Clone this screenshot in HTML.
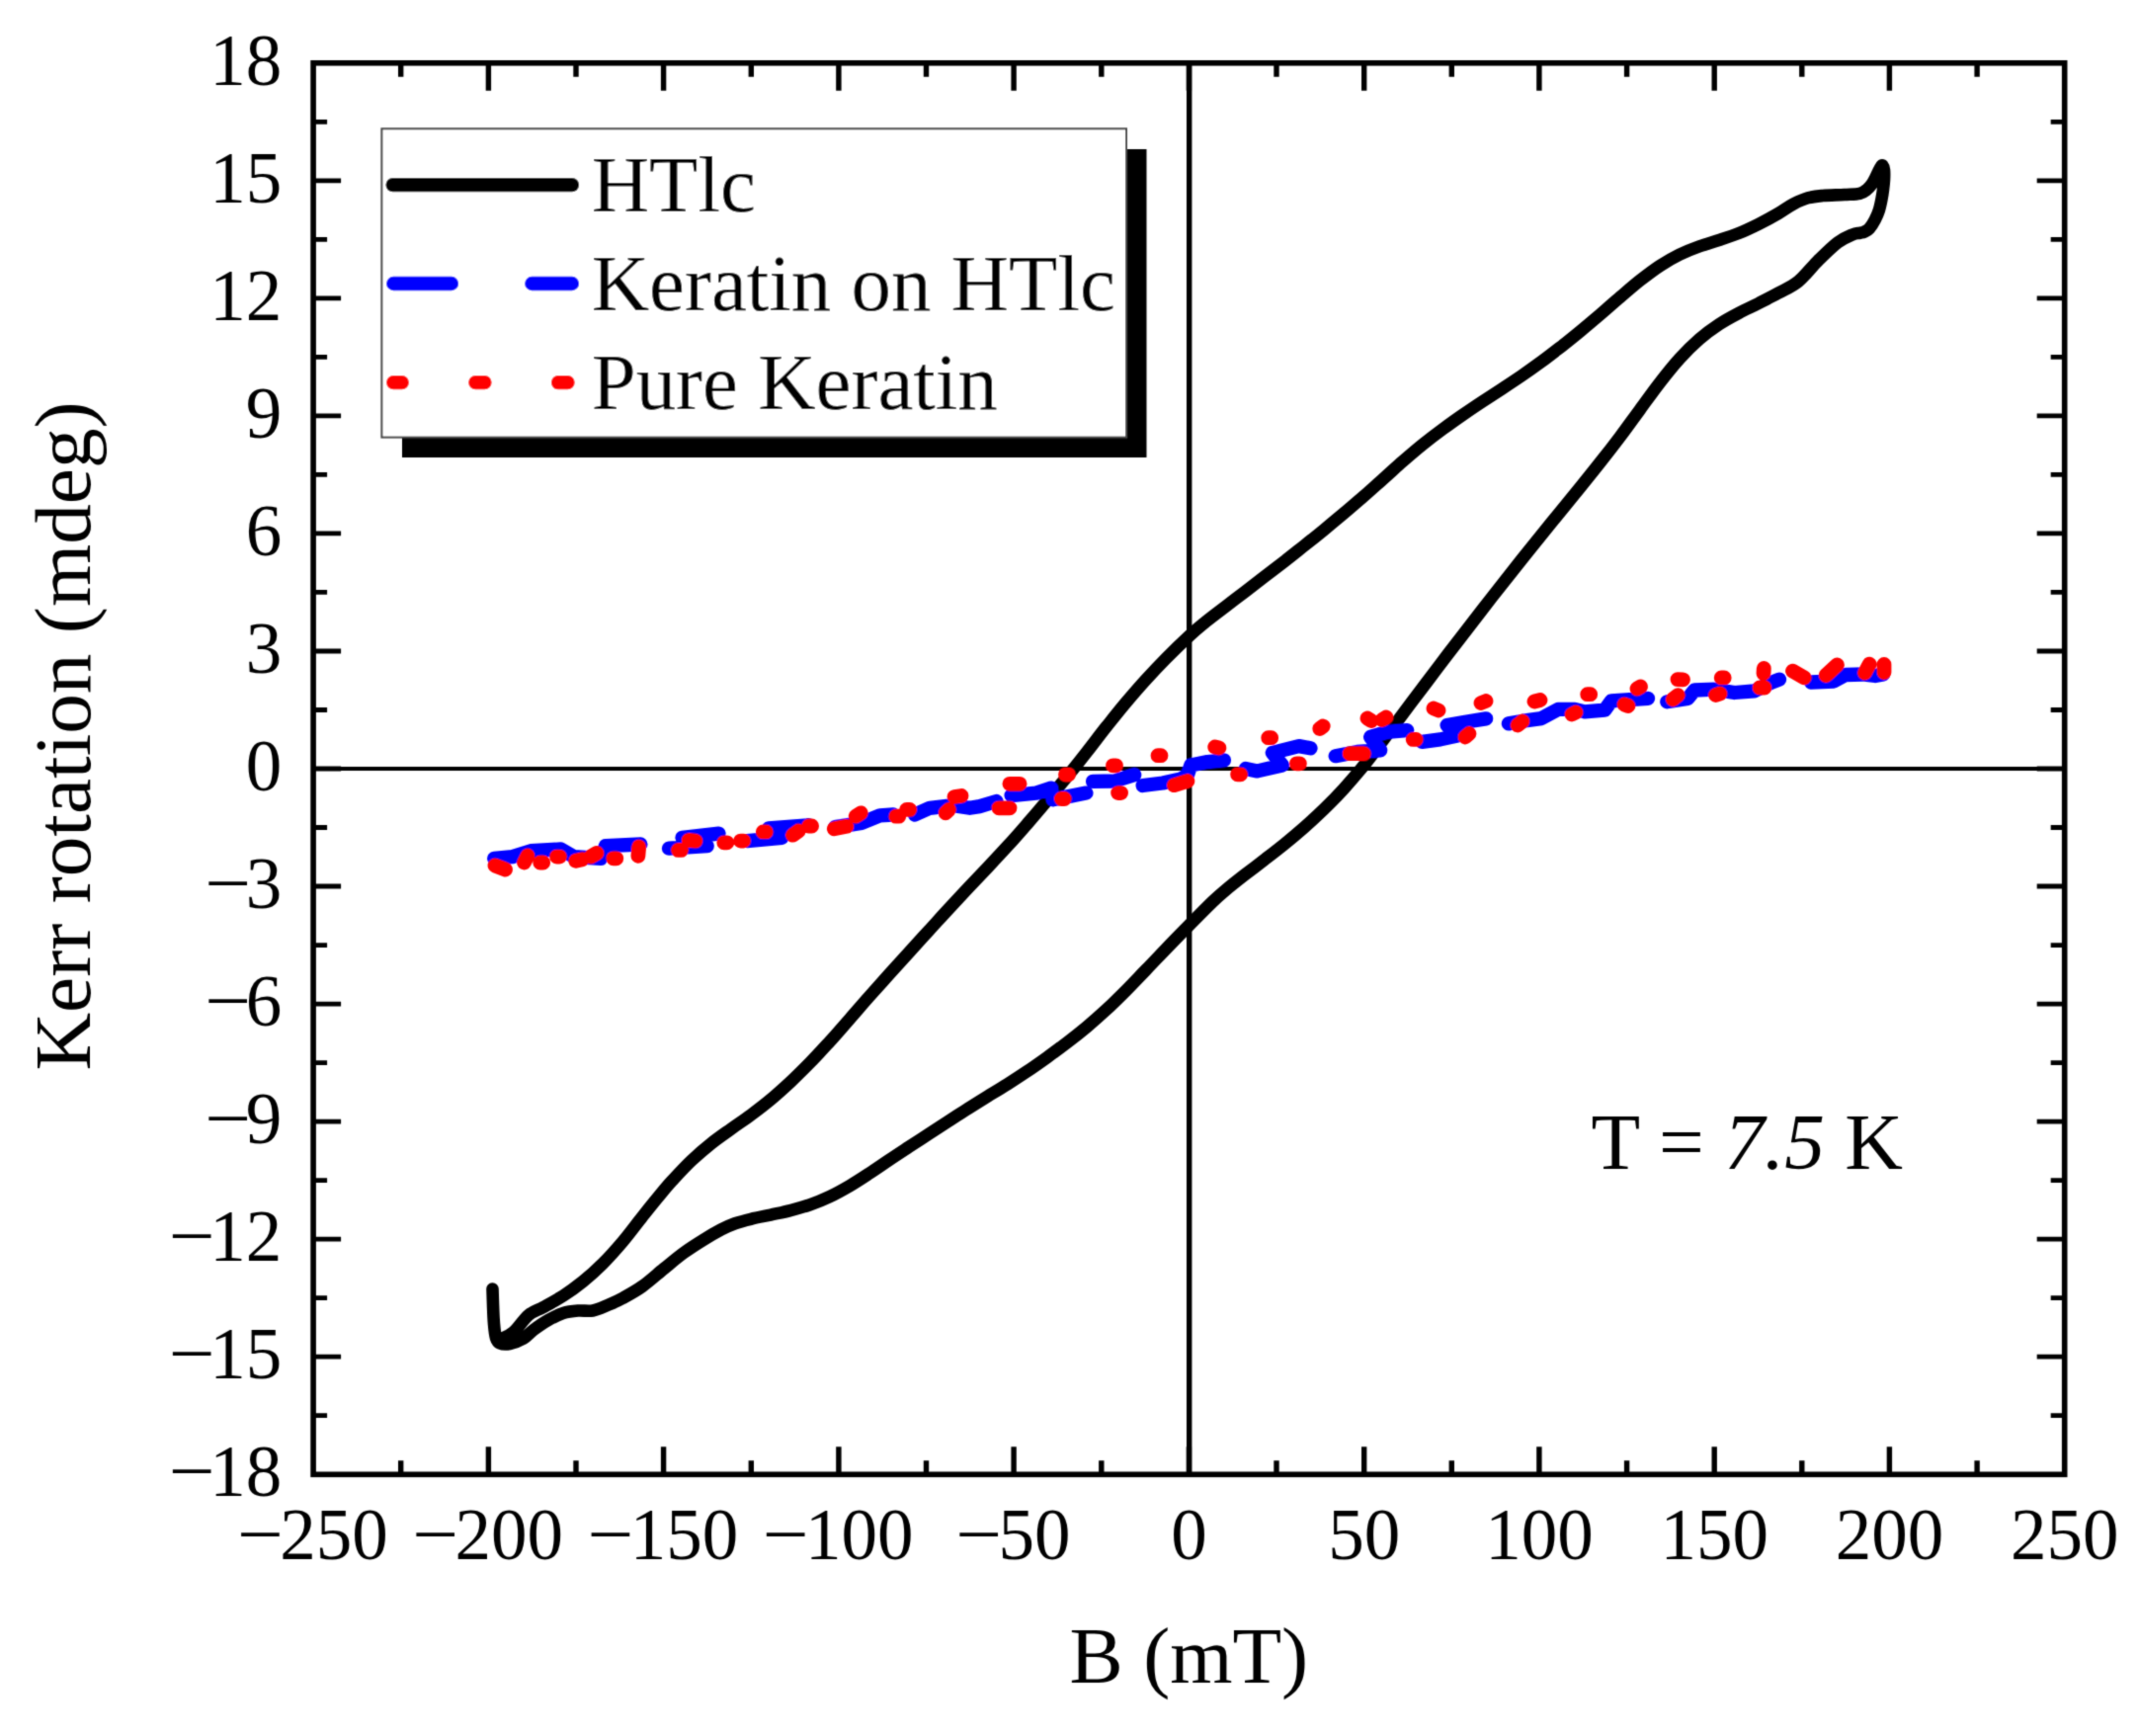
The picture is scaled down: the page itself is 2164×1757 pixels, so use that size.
<!DOCTYPE html>
<html lang="en"><head><meta charset="utf-8"><title>Kerr rotation vs B</title>
<style>html,body{margin:0;padding:0;background:#fff;}svg{display:block;}text{font-family:"Liberation Serif", "Times New Roman", serif;fill:#000;}</style>
</head><body>
<svg width="2164" height="1757" viewBox="0 0 2164 1757">
<rect x="0" y="0" width="2164" height="1757" fill="#fff"/>
<defs><filter id="soft" x="0" y="0" width="2164" height="1757" filterUnits="userSpaceOnUse"><feConvolveMatrix order="3" kernelMatrix="1 4 1 4 20 4 1 4 1" divisor="40" edgeMode="duplicate"/></filter></defs>
<g filter="url(#soft)">
<line x1="1203.7" y1="63.8" x2="1203.7" y2="1492.2" stroke="#000" stroke-width="5.4"/>
<line x1="317.1" y1="778.0" x2="2089.7" y2="778.0" stroke="#000" stroke-width="4.2"/>
<path d="M405.7 63.8v14.0M405.7 1492.2v-14.0M494.4 63.8v28.0M494.4 1492.2v-28.0M583.0 63.8v14.0M583.0 1492.2v-14.0M671.6 63.8v28.0M671.6 1492.2v-28.0M760.3 63.8v14.0M760.3 1492.2v-14.0M848.9 63.8v28.0M848.9 1492.2v-28.0M937.5 63.8v14.0M937.5 1492.2v-14.0M1026.1 63.8v28.0M1026.1 1492.2v-28.0M1114.8 63.8v14.0M1114.8 1492.2v-14.0M1203.4 63.8v28.0M1203.4 1492.2v-28.0M1292.0 63.8v14.0M1292.0 1492.2v-14.0M1380.7 63.8v28.0M1380.7 1492.2v-28.0M1469.3 63.8v14.0M1469.3 1492.2v-14.0M1557.9 63.8v28.0M1557.9 1492.2v-28.0M1646.6 63.8v14.0M1646.6 1492.2v-14.0M1735.2 63.8v28.0M1735.2 1492.2v-28.0M1823.8 63.8v14.0M1823.8 1492.2v-14.0M1912.4 63.8v28.0M1912.4 1492.2v-28.0M2001.1 63.8v14.0M2001.1 1492.2v-14.0" stroke="#000" stroke-width="5.4" fill="none"/>
<path d="M317.1 1432.7h14.0M2089.7 1432.7h-14.0M317.1 1373.2h28.0M2089.7 1373.2h-28.0M317.1 1313.7h14.0M2089.7 1313.7h-14.0M317.1 1254.2h28.0M2089.7 1254.2h-28.0M317.1 1194.6h14.0M2089.7 1194.6h-14.0M317.1 1135.1h28.0M2089.7 1135.1h-28.0M317.1 1075.6h14.0M2089.7 1075.6h-14.0M317.1 1016.1h28.0M2089.7 1016.1h-28.0M317.1 956.6h14.0M2089.7 956.6h-14.0M317.1 897.0h28.0M2089.7 897.0h-28.0M317.1 837.5h14.0M2089.7 837.5h-14.0M317.1 778.0h28.0M2089.7 778.0h-28.0M317.1 718.5h14.0M2089.7 718.5h-14.0M317.1 659.0h28.0M2089.7 659.0h-28.0M317.1 599.4h14.0M2089.7 599.4h-14.0M317.1 539.9h28.0M2089.7 539.9h-28.0M317.1 480.4h14.0M2089.7 480.4h-14.0M317.1 420.9h28.0M2089.7 420.9h-28.0M317.1 361.4h14.0M2089.7 361.4h-14.0M317.1 301.8h28.0M2089.7 301.8h-28.0M317.1 242.3h14.0M2089.7 242.3h-14.0M317.1 182.8h28.0M2089.7 182.8h-28.0M317.1 123.3h14.0M2089.7 123.3h-14.0" stroke="#000" stroke-width="4.8" fill="none"/>
<g fill="none" stroke-linecap="round" stroke-linejoin="round">
<path d="M498.5 1304.5 C498.6 1307.1 498.8 1314.1 499.0 1320.0 C499.2 1325.9 499.5 1334.3 500.0 1340.0 C500.5 1345.7 501.0 1350.8 502.0 1354.0 C503.0 1357.2 503.7 1358.5 506.0 1359.5 C508.3 1360.5 512.0 1360.8 516.0 1360.0 C520.0 1359.2 526.0 1356.8 530.0 1354.5 C534.0 1352.2 535.8 1349.1 540.0 1346.0 C544.2 1342.9 550.0 1338.8 555.0 1336.0 C560.0 1333.2 565.0 1330.6 570.0 1329.0 C575.0 1327.4 580.0 1326.9 585.0 1326.5 C590.0 1326.1 595.0 1327.4 600.0 1326.5 C605.0 1325.6 610.0 1323.1 615.0 1321.0 C620.0 1318.9 624.2 1317.2 630.0 1314.0 C635.8 1310.8 643.0 1307.0 650.0 1302.0 C657.0 1297.0 665.0 1289.7 672.0 1284.0 C679.0 1278.3 685.3 1272.9 692.0 1268.0 C698.7 1263.1 705.7 1258.7 712.0 1254.8 C718.3 1250.9 724.7 1247.2 730.0 1244.4 C735.3 1241.7 739.0 1240.1 744.0 1238.3 C749.0 1236.5 754.0 1235.2 760.0 1233.8 C766.0 1232.3 773.3 1231.0 780.0 1229.6 C786.7 1228.1 793.3 1226.8 800.0 1225.1 C806.7 1223.4 813.3 1221.5 820.0 1219.2 C826.7 1216.9 833.3 1214.2 840.0 1211.0 C846.7 1207.8 853.3 1204.1 860.0 1200.2 C866.7 1196.3 873.3 1191.9 880.0 1187.5 C886.7 1183.1 893.3 1178.5 900.0 1174.0 C906.7 1169.5 913.3 1165.2 920.0 1160.8 C926.7 1156.4 933.3 1152.1 940.0 1147.8 C946.7 1143.5 953.3 1139.1 960.0 1134.8 C966.7 1130.5 973.3 1126.0 980.0 1121.8 C986.7 1117.6 993.3 1113.5 1000.0 1109.4 C1006.7 1105.3 1013.3 1101.3 1020.0 1097.1 C1026.7 1092.9 1033.3 1088.6 1040.0 1084.1 C1046.7 1079.6 1053.3 1074.9 1060.0 1070.1 C1066.7 1065.3 1073.3 1060.3 1080.0 1055.2 C1086.7 1050.1 1093.3 1044.9 1100.0 1039.3 C1106.7 1033.7 1113.3 1027.9 1120.0 1021.7 C1126.7 1015.5 1133.3 1008.9 1140.0 1002.2 C1146.7 995.5 1153.3 988.4 1160.0 981.5 C1166.7 974.6 1172.7 968.2 1180.0 960.6 C1187.3 953.0 1196.1 944.0 1204.0 936.0 C1211.9 928.0 1221.6 918.2 1227.6 912.4 C1233.6 906.6 1234.6 905.8 1240.0 901.3 C1245.4 896.8 1253.3 890.5 1260.0 885.3 C1266.7 880.1 1273.3 875.2 1280.0 870.0 C1286.7 864.8 1293.3 859.7 1300.0 854.3 C1306.7 848.9 1313.3 843.4 1320.0 837.5 C1326.7 831.6 1333.3 825.5 1340.0 819.0 C1346.7 812.5 1353.8 805.2 1360.0 798.4 C1366.2 791.6 1372.5 784.3 1377.5 778.3 C1382.5 772.3 1384.6 769.5 1390.0 762.4 C1395.4 755.3 1403.7 744.1 1410.0 735.8 C1416.3 727.4 1420.1 722.3 1427.6 712.3 C1435.1 702.3 1446.3 687.5 1455.0 676.0 C1463.7 664.5 1470.8 655.2 1480.0 643.3 C1489.2 631.4 1500.0 617.3 1510.0 604.5 C1520.0 591.7 1530.0 579.0 1540.0 566.5 C1550.0 554.0 1560.0 541.6 1570.0 529.3 C1580.0 516.9 1591.7 502.7 1600.0 492.4 C1608.3 482.1 1613.3 475.9 1620.0 467.5 C1626.7 459.1 1633.3 450.6 1640.0 441.7 C1646.7 432.8 1653.3 423.5 1660.0 414.4 C1666.7 405.3 1673.3 395.9 1680.0 387.3 C1686.7 378.7 1693.3 370.4 1700.0 363.0 C1706.7 355.6 1713.3 349.0 1720.0 343.2 C1726.7 337.4 1733.3 332.6 1740.0 328.2 C1746.7 323.8 1753.3 320.3 1760.0 316.8 C1766.7 313.3 1773.3 310.4 1780.0 307.0 C1786.7 303.6 1793.3 300.3 1800.0 296.6 C1806.7 292.9 1813.3 290.4 1820.0 285.0 C1826.7 279.6 1833.3 270.6 1840.0 264.0 C1846.7 257.4 1854.2 249.9 1860.0 245.5 C1865.8 241.1 1871.3 239.1 1875.0 237.5 C1878.7 235.9 1880.4 236.3 1882.4 235.8 C1884.4 235.3 1885.3 235.4 1886.9 234.7 C1888.5 233.9 1890.3 233.3 1892.1 231.3 C1893.9 229.3 1896.1 225.8 1897.7 222.7 C1899.3 219.6 1900.7 216.4 1901.8 213.0 C1902.9 209.6 1903.7 205.5 1904.4 202.0 C1905.1 198.5 1905.6 195.3 1906.0 192.0 C1906.4 188.7 1906.8 185.3 1907.0 182.0 C1907.2 178.7 1907.2 174.4 1907.0 172.0 C1906.8 169.6 1906.0 168.1 1905.5 167.5 C1905.0 166.9 1904.7 167.6 1904.0 168.5 C1903.3 169.4 1902.4 171.2 1901.5 173.0 C1900.6 174.8 1899.7 177.2 1898.5 179.5 C1897.3 181.8 1896.0 184.5 1894.5 186.5 C1893.0 188.5 1891.8 190.1 1889.8 191.7 C1887.8 193.2 1886.2 194.9 1882.4 195.8 C1878.6 196.7 1873.2 196.6 1867.0 197.0 C1860.8 197.4 1851.2 197.4 1845.0 198.0 C1838.8 198.6 1835.0 198.9 1830.0 200.3 C1825.0 201.7 1820.0 204.0 1815.0 206.6 C1810.0 209.2 1805.8 212.6 1800.0 216.0 C1794.2 219.4 1786.7 223.5 1780.0 226.8 C1773.3 230.1 1766.7 233.3 1760.0 236.0 C1753.3 238.7 1746.7 240.8 1740.0 243.0 C1733.3 245.2 1726.7 247.0 1720.0 249.4 C1713.3 251.8 1706.7 254.4 1700.0 257.7 C1693.3 261.0 1686.7 264.8 1680.0 269.1 C1673.3 273.5 1666.7 278.6 1660.0 283.8 C1653.3 289.1 1646.7 294.9 1640.0 300.6 C1633.3 306.3 1626.7 312.3 1620.0 318.0 C1613.3 323.7 1606.7 329.3 1600.0 334.8 C1593.3 340.3 1586.7 345.7 1580.0 350.9 C1573.3 356.1 1566.7 361.3 1560.0 366.2 C1553.3 371.1 1546.7 375.8 1540.0 380.4 C1533.3 385.0 1526.7 389.3 1520.0 393.7 C1513.3 398.1 1506.7 402.3 1500.0 406.7 C1493.3 411.1 1486.7 415.6 1480.0 420.2 C1473.3 424.8 1466.7 429.6 1460.0 434.5 C1453.3 439.4 1446.7 444.5 1440.0 449.9 C1433.3 455.3 1426.7 461.0 1420.0 466.8 C1413.3 472.6 1406.7 478.8 1400.0 484.7 C1393.3 490.6 1386.7 496.7 1380.0 502.5 C1373.3 508.3 1366.7 514.1 1360.0 519.7 C1353.3 525.3 1346.7 530.8 1340.0 536.3 C1333.3 541.8 1326.7 547.1 1320.0 552.4 C1313.3 557.7 1306.7 563.0 1300.0 568.2 C1293.3 573.4 1286.7 578.5 1280.0 583.6 C1273.3 588.7 1266.7 593.9 1260.0 599.0 C1253.3 604.1 1246.7 609.1 1240.0 614.2 C1233.3 619.3 1226.0 624.8 1220.0 629.6 C1214.0 634.5 1210.7 637.1 1204.0 643.3 C1197.3 649.5 1187.3 659.2 1180.0 666.6 C1172.7 674.0 1166.7 680.4 1160.0 687.7 C1153.3 695.0 1146.7 702.7 1140.0 710.6 C1133.3 718.5 1126.7 726.9 1120.0 735.3 C1113.3 743.7 1106.0 753.5 1100.0 761.1 C1094.0 768.8 1090.7 773.0 1084.0 781.2 C1077.3 789.4 1067.3 801.4 1060.0 810.1 C1052.7 818.8 1046.7 825.8 1040.0 833.5 C1033.3 841.2 1026.7 848.8 1020.0 856.1 C1013.3 863.5 1006.7 870.5 1000.0 877.6 C993.3 884.7 986.7 891.6 980.0 898.7 C973.3 905.8 966.7 912.9 960.0 920.1 C953.3 927.3 946.7 934.7 940.0 942.0 C933.3 949.3 926.7 956.6 920.0 964.0 C913.3 971.4 906.7 978.7 900.0 986.1 C893.3 993.5 886.7 1000.9 880.0 1008.4 C873.3 1015.9 866.7 1023.7 860.0 1031.3 C853.3 1038.9 846.7 1046.7 840.0 1054.0 C833.3 1061.3 826.7 1068.6 820.0 1075.4 C813.3 1082.2 806.7 1088.8 800.0 1095.1 C793.3 1101.3 786.7 1107.3 780.0 1112.9 C773.3 1118.5 766.7 1123.5 760.0 1128.5 C753.3 1133.5 746.7 1137.8 740.0 1142.6 C733.3 1147.4 726.7 1151.9 720.0 1157.2 C713.3 1162.5 706.7 1168.2 700.0 1174.5 C693.3 1180.8 685.7 1189.1 680.0 1195.3 C674.3 1201.5 671.0 1205.8 666.0 1211.8 C661.0 1217.8 656.0 1224.1 650.0 1231.6 C644.0 1239.1 636.7 1249.1 630.0 1257.0 C623.3 1264.9 616.7 1272.3 610.0 1279.0 C603.3 1285.7 596.7 1291.6 590.0 1297.0 C583.3 1302.4 576.7 1307.2 570.0 1311.5 C563.3 1315.8 555.8 1319.8 550.0 1323.0 C544.2 1326.2 540.0 1326.8 535.0 1331.0 C530.0 1335.2 524.5 1344.0 520.0 1348.0 C515.5 1352.0 510.0 1353.8 508.0 1355.0" stroke="#000" stroke-width="12.6"/>
<path d="M500.2 868.8L518.7 867.1L537.2 861.2L567.6 859.5L581.0 867.1L608.0 868.8L613.0 856.2L648.4 854.5M677.0 858.7L715.7 856.2M690.5 847.8L727.5 843.6M756.1 851.1L791.5 847.8M778.0 838.5L818.4 835.2M845.2 837.1L872.1 832.9L890.6 825.3L904.1 824.5M926.0 824.5L941.1 817.8L964.7 815.2L981.5 817.8L991.6 816.1L1008.5 811.0M1023.6 805.1L1048.9 802.6L1064.0 797.6L1065.7 809.3L1099.4 802.6M1106.1 790.8L1128.0 790.5L1148.2 784.1M1156.7 795.0L1176.9 792.5L1195.0 788.5L1201.9 784.6L1205.3 774.5L1222.1 771.1L1238.9 769.4M1260.8 777.9L1272.6 780.4L1297.9 774.5L1287.8 761.9L1314.7 755.1L1326.5 757.3M1351.7 765.2L1373.6 761.0L1397.2 759.3L1387.1 745.9L1403.9 740.8L1424.2 739.1M1439.3 750.9L1457.8 748.4L1476.3 744.2L1464.6 734.1L1483.1 730.7L1504.1 727.4M1526.9 732.4L1541.7 729.7L1560.2 727.1L1577.0 717.9L1593.9 717.9L1604.0 720.4L1624.2 718.7L1630.9 709.4L1668.0 706.9M1687.3 710.3L1708.4 706.9L1715.1 698.5L1735.3 697.7L1755.5 701.0L1775.7 699.3L1792.6 690.9L1801.0 687.6M1833.0 690.5L1856.0 689.5L1868.0 683.0L1885.0 682.5L1898.0 684.0L1906.0 682.5" stroke="#00f" stroke-width="14.3"/>
<path d="M501.0 876.0L511.5 880.0M530.5 873.0L534.0 866.0M546.7 873.0h3M563.5 867.1h3M582.7 871.3L589.4 869.7M598.0 867.0L604.0 863.5M620.8 868.8h3M645.9 866.3L646.7 857.0M686.5 860.4h3M697.2 850.3L703.9 851.1M732.8 852.8h3M749.6 851.1h3M772.3 841.9h3M802.4 845.2L808.3 841.0M818.6 836.0h3M844.3 838.8L856.9 836.3M866.2 826.2L871.3 822.8M906.8 826.2h3M917.7 819.4h3M957.1 822.8L960.5 819.4M966.0 806.5L973.0 805.5M1011.0 817.8L1022.0 817.8M1021.9 793.3L1032.1 793.3M1074.3 808.5h3M1078.5 784.1h3M1126.5 774.8h3M1131.6 802.6h3M1172.0 764.7h3M1188.4 794.7L1201.9 790.5M1229.7 756.0L1233.9 757.0M1252.6 783.8h3M1283.7 746.7h3M1312.4 772.8h3M1335.8 737.5L1339.2 735.0M1366.1 762.7L1380.4 762.7M1384.0 727.0L1388.0 729.5M1399.0 728.5L1403.0 726.0M1430.2 748.4h3M1451.0 717.0L1456.0 719.0M1483.0 746.0L1487.0 742.5M1499.0 711.5L1504.0 709.5M1536.0 734.0L1541.0 730.0M1553.0 710.0L1559.0 708.5M1591.0 723.0L1595.0 721.0M1606.7 702.7h3M1644.0 713.0L1648.0 714.5M1657.0 697.0L1660.5 695.0M1693.2 707.8L1698.3 703.6M1698.0 687.6L1703.5 687.8M1736.5 703.5L1741.0 702.0M1742.2 685.9h3M1781.0 696.0L1786.0 696.0M1785.0 681.5L1785.3 676.5M1814.5 679.1L1826.2 685.9M1848.1 683.5L1859.5 673.0M1887.5 681.0L1892.2 672.2M1907.0 672.5L1907.0 680.5" stroke="#f00" stroke-width="14.8"/>
</g>
<rect x="317.1" y="63.8" width="1772.6" height="1428.5" fill="none" stroke="#000" stroke-width="5.6"/>
<g font-size="74.5" text-anchor="middle">
<text text-anchor="start" transform="translate(239.7 1577.6) scale(0.980 1)"><tspan textLength="47.8" lengthAdjust="spacingAndGlyphs">−</tspan><tspan dx="-3.4">250</tspan></text>
<text text-anchor="start" transform="translate(417.0 1577.6) scale(0.980 1)"><tspan textLength="47.8" lengthAdjust="spacingAndGlyphs">−</tspan><tspan dx="-3.4">200</tspan></text>
<text text-anchor="start" transform="translate(594.2 1577.6) scale(0.980 1)"><tspan textLength="47.8" lengthAdjust="spacingAndGlyphs">−</tspan><tspan dx="-3.4">150</tspan></text>
<text text-anchor="start" transform="translate(771.5 1577.6) scale(0.980 1)"><tspan textLength="47.8" lengthAdjust="spacingAndGlyphs">−</tspan><tspan dx="-3.4">100</tspan></text>
<text text-anchor="start" transform="translate(966.9 1577.6) scale(0.980 1)"><tspan textLength="47.8" lengthAdjust="spacingAndGlyphs">−</tspan><tspan dx="-3.4">50</tspan></text>
<text transform="translate(1203.4 1577.6) scale(0.980 1)">0</text>
<text transform="translate(1380.7 1577.6) scale(0.980 1)">50</text>
<text transform="translate(1557.9 1577.6) scale(0.980 1)">100</text>
<text transform="translate(1735.2 1577.6) scale(0.980 1)">150</text>
<text transform="translate(1912.4 1577.6) scale(0.980 1)">200</text>
<text transform="translate(2089.7 1577.6) scale(0.980 1)">250</text>
</g>
<g font-size="74.5" text-anchor="end">
<text text-anchor="start" transform="translate(170.6 1514.2) scale(0.980 1)"><tspan textLength="47.8" lengthAdjust="spacingAndGlyphs">−</tspan><tspan dx="-5.2">18</tspan></text>
<text text-anchor="start" transform="translate(170.6 1395.2) scale(0.980 1)"><tspan textLength="47.8" lengthAdjust="spacingAndGlyphs">−</tspan><tspan dx="-5.2">15</tspan></text>
<text text-anchor="start" transform="translate(170.6 1276.2) scale(0.980 1)"><tspan textLength="47.8" lengthAdjust="spacingAndGlyphs">−</tspan><tspan dx="-5.2">12</tspan></text>
<text text-anchor="start" transform="translate(206.9 1157.1) scale(0.980 1)"><tspan textLength="47.8" lengthAdjust="spacingAndGlyphs">−</tspan><tspan dx="-5.0">9</tspan></text>
<text text-anchor="start" transform="translate(206.9 1038.1) scale(0.980 1)"><tspan textLength="47.8" lengthAdjust="spacingAndGlyphs">−</tspan><tspan dx="-5.0">6</tspan></text>
<text text-anchor="start" transform="translate(206.9 919.0) scale(0.980 1)"><tspan textLength="47.8" lengthAdjust="spacingAndGlyphs">−</tspan><tspan dx="-5.0">3</tspan></text>
<text transform="translate(285.3 800.0) scale(0.980 1)">0</text>
<text transform="translate(285.3 681.0) scale(0.980 1)">3</text>
<text transform="translate(285.3 561.9) scale(0.980 1)">6</text>
<text transform="translate(285.3 442.9) scale(0.980 1)">9</text>
<text transform="translate(285.3 323.8) scale(0.980 1)">12</text>
<text transform="translate(285.3 204.8) scale(0.980 1)">15</text>
<text transform="translate(285.3 85.8) scale(0.980 1)">18</text>
</g>
<text x="1203.4" y="1703" font-size="81.3" text-anchor="middle">B (mT)</text>
<text transform="translate(91 745) rotate(-90)" font-size="81.3" text-anchor="middle">Kerr rotation (mdeg)</text>
<text x="1610.5" y="1182.5" font-size="81.3">T = <tspan font-style="italic">7.5</tspan> K</text>
<rect x="407" y="151" width="753.5" height="312" fill="#000"/>
<rect x="386.4" y="130.3" width="753.6" height="312.3" fill="#fff" stroke="#444" stroke-width="2"/>
<g fill="none" stroke-linecap="round" stroke-width="14.3">
<line x1="397.6" y1="187.1" x2="579" y2="187.1" stroke="#000"/>
<path d="M398.2 287H457M538.3 287H579" stroke="#00f"/>
<path d="M398.2 387.1h8.6M481.3 387.1h9.2M565 387.1h9.6" stroke="#f00"/>
</g>
<g font-size="80.9">
<text x="598.7" y="214">HTlc</text>
<text x="598.7" y="314.2">Keratin on HTlc</text>
<text x="598.7" y="414.3">Pure Keratin</text>
</g>
</g>
</svg>
</body></html>
